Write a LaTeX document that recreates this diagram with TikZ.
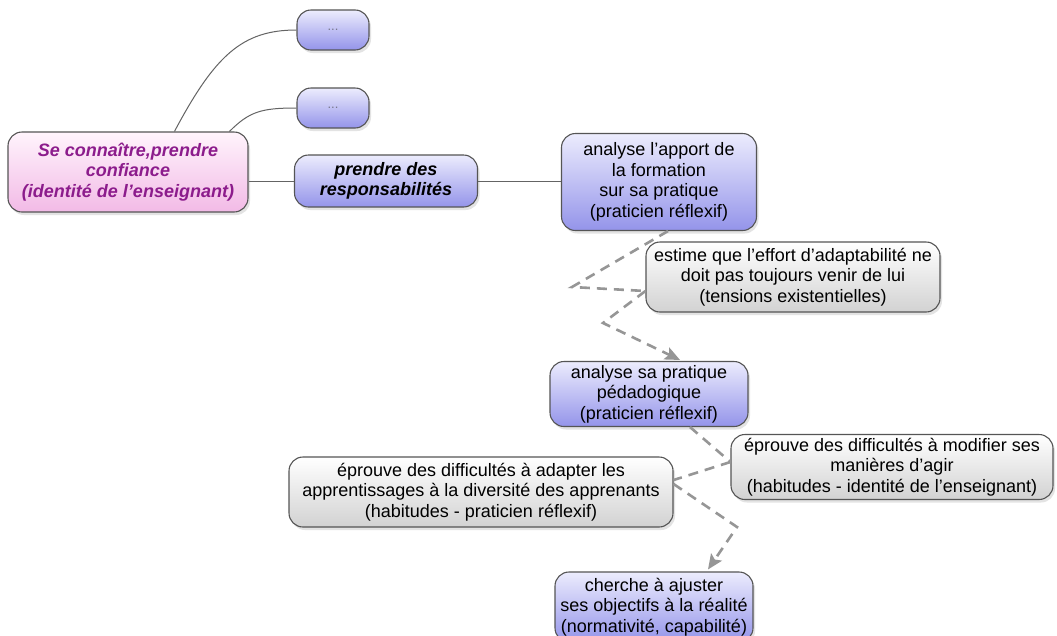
\documentclass[tikz,border=0pt]{standalone}
\usepackage{fontspec}
\setmainfont{Liberation Sans}
\usetikzlibrary{shadows,arrows.meta,calc}
\definecolor{bluetop}{RGB}{236,236,253}
\definecolor{bluebot}{RGB}{148,148,234}
\definecolor{pinktop}{RGB}{255,244,252}
\definecolor{pinkbot}{RGB}{242,186,230}
\definecolor{greytop}{RGB}{255,255,255}
\definecolor{greybot}{RGB}{210,210,210}
\definecolor{bordergray}{RGB}{85,85,85}
\definecolor{rootpurple}{RGB}{140,28,140}
\definecolor{dashgray}{RGB}{150,150,150}
\definecolor{linegray}{RGB}{100,100,100}
\definecolor{dotgray}{RGB}{120,120,140}
\tikzset{
  box/.style={draw=bordergray, line width=1.1pt, rounded corners=14pt, align=center,
    inner sep=0pt, font=\fontsize{18}{20.5}\selectfont,
    drop shadow={shadow xshift=2pt,shadow yshift=-3pt,opacity=0.22}},
  bluebox/.style={box, top color=bluetop, bottom color=bluebot},
  greybox/.style={box, top color=greytop, bottom color=greybot},
  pinkbox/.style={box, top color=pinktop, bottom color=pinkbot},
  solidlink/.style={draw=linegray, line width=1pt},
  dashlink/.style={draw=dashgray, line width=2.6pt, dash pattern=on 10pt off 7pt},
  dasharrow/.style={dashlink, -{Stealth[length=15pt,width=13pt,inset=3pt]}, dashgray}
}
\begin{document}
\begin{tikzpicture}[x=1pt,y=-1pt]
\useasboundingbox (0,0) rectangle (1057,635);
\fill[white] (0,0) rectangle (1057,635);

% nodes
\node[bluebox, minimum width=72, minimum height=40] (d1) at (333,30) {\fontsize{13}{14}\selectfont\color{dotgray}...};
\node[bluebox, minimum width=72, minimum height=40] (d2) at (333,108) {\fontsize{13}{14}\selectfont\color{dotgray}...};
\node[pinkbox, minimum width=240, minimum height=80, text=rootpurple, font=\fontsize{18}{20.5}\selectfont\bfseries\itshape] (root) at (128,172) {Se connaître,prendre\\confiance\\(identité de l’enseignant)};
\node[bluebox, minimum width=183, minimum height=52, font=\fontsize{18}{20.5}\selectfont\bfseries\itshape] (resp) at (386,181) {prendre des\\responsabilités};
\node[bluebox, minimum width=195, minimum height=97] (an1) at (659,182) {analyse l’apport de\\la formation\\sur sa pratique\\(praticien réflexif)};
\node[greybox, minimum width=294, minimum height=70] (est) at (793,277) {estime que l’effort d’adaptabilité ne\\doit pas toujours venir de lui\\(tensions existentielles)};
\node[bluebox, minimum width=198, minimum height=65] (an2) at (649,394) {analyse sa pratique\\pédadogique\\(praticien réflexif)};
\node[greybox, minimum width=322, minimum height=65] (mod) at (892,467) {éprouve des difficultés à modifier ses\\manières d’agir\\(habitudes - identité de l’enseignant)};
\node[greybox, minimum width=384, minimum height=70] (adp) at (481,492) {éprouve des difficultés à adapter les\\apprentissages à la diversité des apprenants\\(habitudes - praticien réflexif)};
\node[bluebox, minimum width=198, minimum height=70] (ch) at (654,607) {cherche à ajuster\\ses objectifs à la réalité\\(normativité, capabilité)};

% solid links
\draw[solidlink] ($(root.north west)+(167,0)$) .. controls +(40,-75) and +(-55,0) .. (d1.west);
\draw[solidlink] ($(root.north west)+(222,0)$) .. controls +(20,-20) and +(-35,0) .. (d2.west);
\draw[solidlink] (root.east |- resp.west) -- (resp.west);
\draw[solidlink] (resp.east) -- (resp.east -| an1.west);

% dashed links
\coordinate (b1) at (572,287);
\coordinate (b2) at (603,323);
\coordinate (b3) at (737,527);
\draw[dashlink] ($(an1.south)+(9,0)$) -- (b1) -- ($(est.west)+(0,14)$);
\draw[dasharrow] ($(est.west)+(0,14)$) -- (b2) -- ($(an2.north)+(31,-1)$);
\draw[dashlink] ($(an2.south)+(41,0)$) -- ($(mod.west)+(0,-5)$);
\draw[dashlink] ($(mod.west)+(0,-5)$) -- ($(adp.east)+(0,-12)$);
\draw[dasharrow] ($(adp.east)+(0,-8)$) -- (b3) -- ($(ch.north)+(54,-2)$);
\end{tikzpicture}
\end{document}
